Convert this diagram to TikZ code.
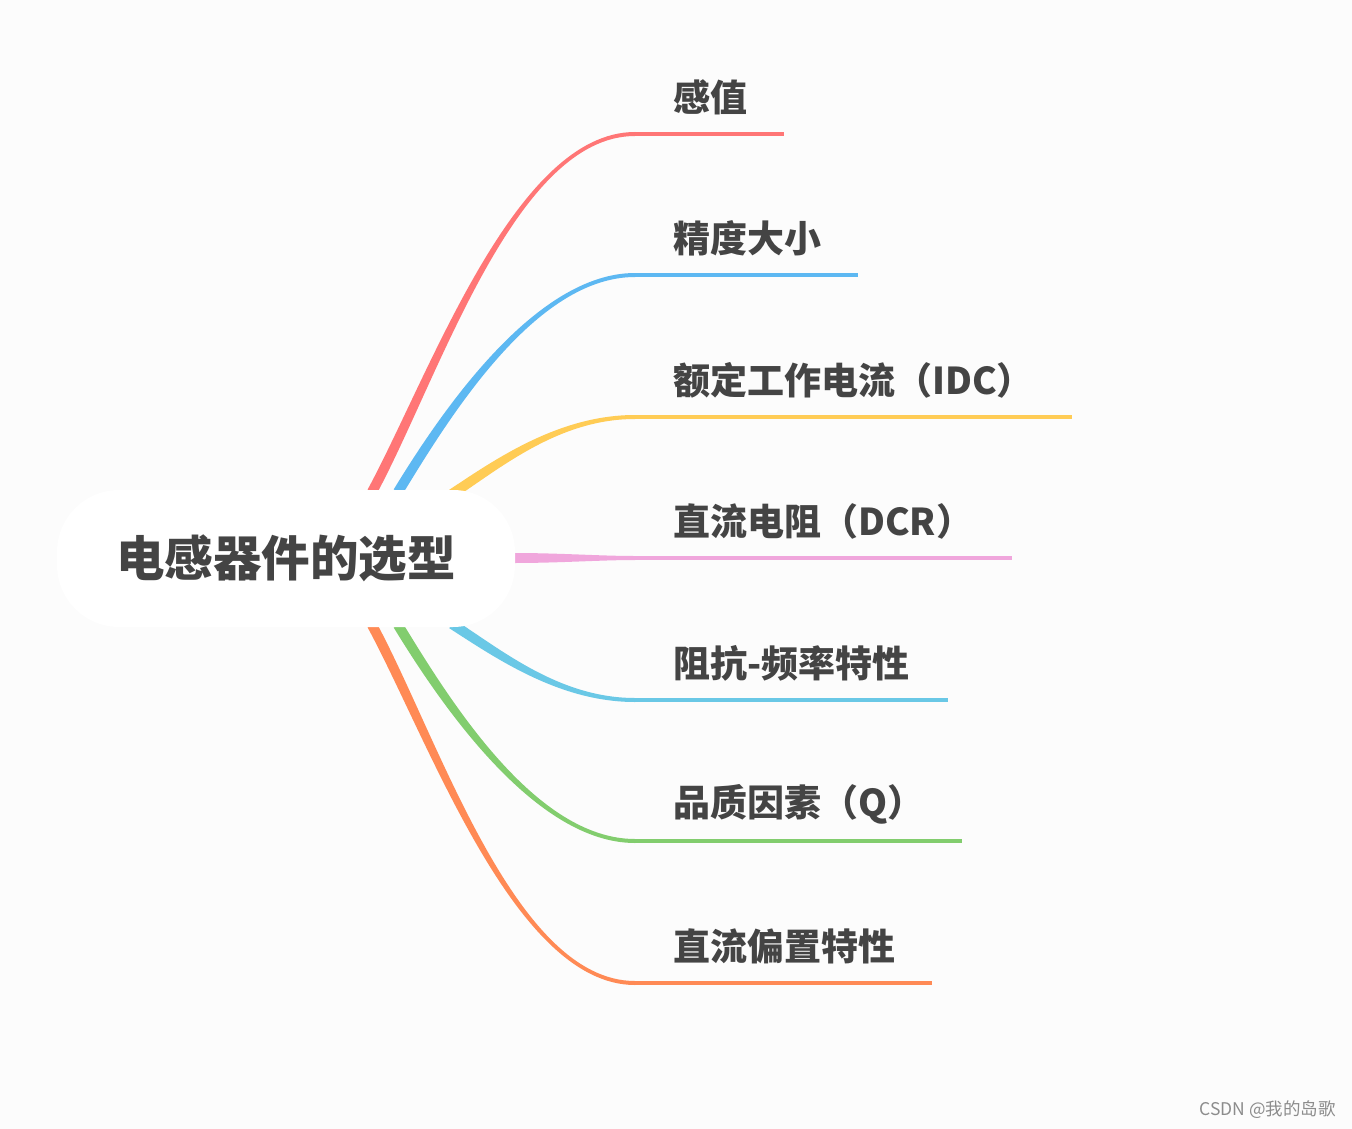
\documentclass[tikz,border=0pt]{standalone}
\usepackage{fontspec}
\newfontfamily\cjk{Noto Sans CJK SC}
\usetikzlibrary{calc}
\definecolor{bg}{HTML}{FCFCFC}
\definecolor{txt}{HTML}{444444}
\definecolor{cred}{HTML}{FF7676}
\definecolor{cblue}{HTML}{5DB8F2}
\definecolor{cyel}{HTML}{FFCC55}
\definecolor{cpink}{HTML}{F0A6DC}
\definecolor{ccyan}{HTML}{6AC8E6}
\definecolor{cgreen}{HTML}{82CD6E}
\definecolor{corange}{HTML}{FF8A55}
\newcommand\mybranch[7]{%
  \coordinate (#1-0) at #3; \coordinate (#1-1) at #4;
  \coordinate (#1-2) at #5; \coordinate (#1-3) at #6;
  \coordinate (#1-e) at #7;
  \coordinate (#1-a0) at ($(#1-0)!5pt!90:(#1-1)$);
  \coordinate (#1-b0) at ($(#1-0)!5pt!-90:(#1-1)$);
  \coordinate (#1-a1) at ($(#1-1)+(#1-a0)-(#1-0)$);
  \coordinate (#1-b1) at ($(#1-1)+(#1-b0)-(#1-0)$);
  \coordinate (#1-a2) at ($(#1-2)+(0,-2)$);
  \coordinate (#1-b2) at ($(#1-2)+(0,2)$);
  \coordinate (#1-a3) at ($(#1-3)+(0,-2)$);
  \coordinate (#1-b3) at ($(#1-3)+(0,2)$);
  \fill[#2] (#1-a0) .. controls (#1-a1) and (#1-a2) .. (#1-a3) -- (#1-b3) .. controls (#1-b2) and (#1-b1) .. (#1-b0) -- cycle;
  \draw[#2, line width=4pt] (#1-3) -- (#1-e);
}
\tikzset{
  lbl/.style={anchor=west, inner sep=0pt, text=txt, font=\cjk\bfseries\fontsize{37}{42}\selectfont},
  root/.style={fill=white, rounded corners=62pt, minimum width=458pt, minimum height=137pt, inner sep=0pt, text=txt, font=\cjk\bfseries\fontsize{48.5}{52}\selectfont}
}
\begin{document}
\begin{tikzpicture}[x=1pt,y=-1pt]
\fill[bg] (0,0) rectangle (1352,1129);
\useasboundingbox (0,0) rectangle (1352,1129);
\mybranch{b1}{cred}{(372,492)}{(435,375)}{(515,134)}{(635,134)}{(784,134)}
\mybranch{b2}{cblue}{(398,492)}{(445,415)}{(535,275)}{(635,275)}{(858,275)}
\mybranch{b3}{cyel}{(452,494)}{(500,462)}{(560,417)}{(635,417)}{(1072,417)}
\mybranch{b4}{cpink}{(514,558)}{(560,558)}{(600,558)}{(635,558)}{(1012,558)}
\mybranch{b5}{ccyan}{(452,624)}{(500,655)}{(560,700)}{(635,700)}{(948,700)}
\mybranch{b6}{cgreen}{(398,625)}{(445,702)}{(535,841)}{(635,841)}{(962,841)}
\mybranch{b7}{corange}{(372,625)}{(435,742)}{(515,983)}{(635,983)}{(932,983)}
\node[root] (center) at (286,558.5) {电感器件的选型};
\node[lbl] (l1) at (673,97) {感值};
\node[lbl] (l2) at (673,238) {精度大小};
\node[lbl] (l3) at (673,380) {额定工作电流（IDC）};
\node[lbl] (l4) at (673,521) {直流电阻（DCR）};
\node[lbl] (l5) at (673,663) {阻抗-频率特性};
\node[lbl] (l6) at (673,804) {品质因素（Q）};
\node[lbl] (l7) at (673,946) {直流偏置特性};
\node[anchor=east, inner sep=0pt, text=black!45, font=\cjk\fontsize{17.5}{20}\selectfont] (wm) at (1336,1110) {CSDN @我的岛歌};
\end{tikzpicture}
\end{document}
